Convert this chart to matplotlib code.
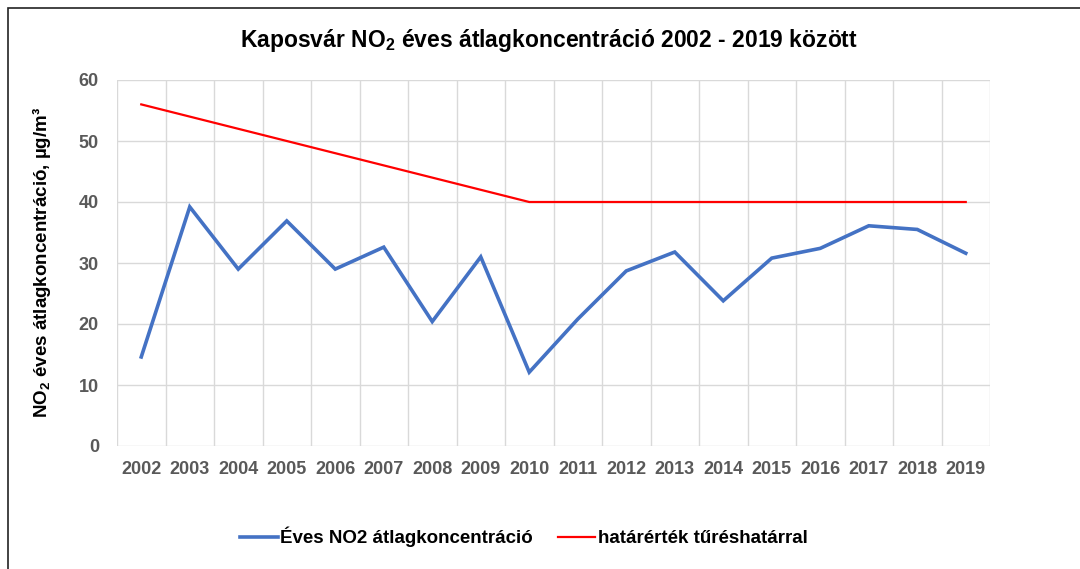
import matplotlib
matplotlib.use("Agg")
import matplotlib.pyplot as plt
from matplotlib.lines import Line2D
from matplotlib.patches import Rectangle

years = ["2002", "2003", "2004", "2005", "2006", "2007", "2008", "2009", "2010",
         "2011", "2012", "2013", "2014", "2015", "2016", "2017", "2018", "2019"]
no2_annual = [14.6, 39.2, 29.0, 36.9, 29.0, 32.6, 20.4, 31.0, 12.1,
              20.8, 28.7, 31.8, 23.8, 30.8, 32.4, 36.1, 35.5, 31.6]
limit_tolerance = [56, 54, 52, 50, 48, 46, 44, 42, 40,
                   40, 40, 40, 40, 40, 40, 40, 40, 40]
y_ticks = [0, 10, 20, 30, 40, 50, 60]

plt.rcParams['font.family'] = ['Liberation Sans', 'DejaVu Sans']
plt.rcParams['mathtext.fontset'] = 'custom'
plt.rcParams['mathtext.rm'] = 'Liberation Sans:bold'
plt.rcParams['mathtext.bf'] = 'Liberation Sans:bold'
plt.rcParams['mathtext.it'] = 'Liberation Sans:bold'

fig = plt.figure(figsize=(10.8, 5.69), dpi=100)
ax = fig.add_axes([117/1080, 1-446/569, (990-117)/1080, (446-80)/569])

x = list(range(len(years)))
blue = '#4472C4'
red = '#FF0000'
ax.plot(x, no2_annual, color=blue, lw=2.6, solid_joinstyle='miter', zorder=3)
ax.plot(x, limit_tolerance, color=red, lw=1.6, zorder=3)

ax.set_xlim(-0.5, len(years) - 0.5)
ax.set_ylim(0, 60)
ax.set_yticks(y_ticks)
ax.set_xticks(x)
ax.set_xticklabels(years)
ax.grid(False)
for v in y_ticks:
    ax.axhline(v, color='#d9d9d9', lw=1.0, zorder=1)
for i in range(-1, len(years)):
    ax.axvline(i + 0.5, color='#d9d9d9', lw=1.0, zorder=1)
for s in ax.spines.values():
    s.set_visible(False)
ax.tick_params(axis='both', which='both', length=0)
ax.tick_params(axis='x', pad=11)
ax.tick_params(axis='y', pad=13)
for lab in ax.get_xticklabels() + ax.get_yticklabels():
    lab.set_fontweight('bold')
    lab.set_fontsize(13)
    lab.set_color('#595959')

fig.text(549/1080, 1-40/569, r'Kaposvár NO$_{\mathbf{2}}$ éves átlagkoncentráció 2002 - 2019 között',
         ha='center', va='center', fontsize=16.5, fontweight='bold', color='black')
fig.text(42/1080, 1-262/569, r'NO$_{\mathbf{2}}$ éves átlagkoncentráció, µg/m³',
         ha='center', va='center', rotation=90, fontsize=13.5, fontweight='bold', color='black')

handles = [Line2D([0], [0], color=blue, lw=2.6), Line2D([0], [0], color=red, lw=1.6)]
fig.legend(handles, ['Éves NO2 átlagkoncentráció', 'határérték tűréshatárral'],
           loc='center', bbox_to_anchor=(524/1080, 1-537/569), ncol=2, frameon=False,
           prop={'weight': 'bold', 'size': 13.5}, handlelength=2.0, handletextpad=0.15,
           columnspacing=1.3)

fig.patches.append(Rectangle((8/1080, -0.1), 1.2, 1.1 - 8/569,
                             transform=fig.transFigure, fill=False, ec='#222222', lw=1.2))

fig.savefig('out.png', dpi=100)
